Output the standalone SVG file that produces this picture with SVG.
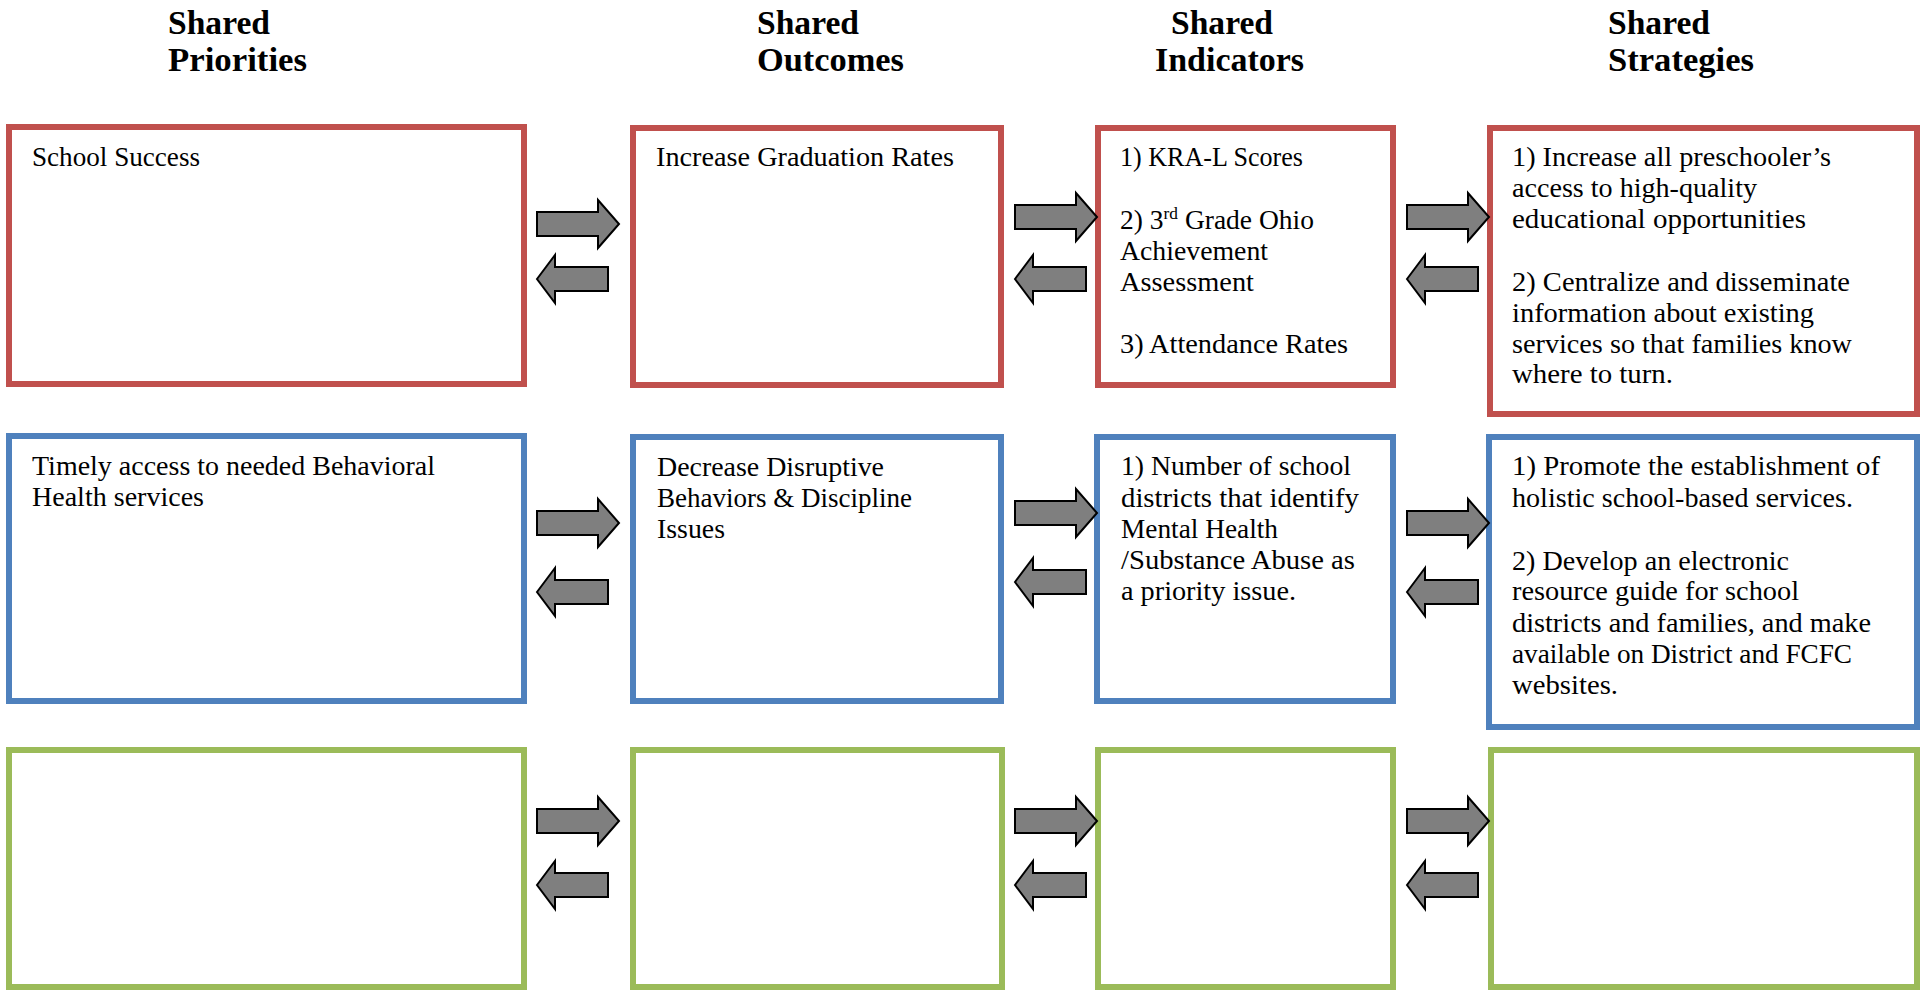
<svg xmlns="http://www.w3.org/2000/svg" xmlns:xlink="http://www.w3.org/1999/xlink" width="1923" height="990" viewBox="0 0 1923 990">
<style>
.hdr{font-family:"Liberation Serif","Times New Roman",serif;font-weight:bold;font-size:33px;fill:#000}
.t{font-family:"Liberation Serif","Times New Roman",serif;font-size:27px;fill:#000}
.sup{font-size:17px}
.red{fill:#fff;stroke:#C0504D;stroke-width:6}
.blue{fill:#fff;stroke:#4F81BD;stroke-width:6}
.green{fill:#fff;stroke:#9BBB59;stroke-width:6}
.arr{fill:#7F7F7F;stroke:#000;stroke-width:2;stroke-linejoin:miter}
</style>
<defs>
<path id="ra" class="arr" d="M0,-12 H61 V-24 L82,0 L61,24 V12 H0 Z"/>
<path id="la" class="arr" d="M0,0 L18,-24 V-12 H71 V12 H18 V24 Z"/>
</defs>
<rect width="1923" height="990" fill="#fff"/>
<g id="headers">
<text class="hdr" x="168" y="34" textLength="102" lengthAdjust="spacingAndGlyphs">Shared</text>
<text class="hdr" x="168" y="71" textLength="139" lengthAdjust="spacingAndGlyphs">Priorities</text>
<text class="hdr" x="757" y="34" textLength="102" lengthAdjust="spacingAndGlyphs">Shared</text>
<text class="hdr" x="757" y="71" textLength="147" lengthAdjust="spacingAndGlyphs">Outcomes</text>
<text class="hdr" x="1171" y="34" textLength="102" lengthAdjust="spacingAndGlyphs">Shared</text>
<text class="hdr" x="1155" y="71" textLength="149" lengthAdjust="spacingAndGlyphs">Indicators</text>
<text class="hdr" x="1608" y="34" textLength="102" lengthAdjust="spacingAndGlyphs">Shared</text>
<text class="hdr" x="1608" y="71" textLength="146" lengthAdjust="spacingAndGlyphs">Strategies</text>
</g>
<g id="r1c1"><rect class="red" x="9" y="127" width="515" height="257"/><text class="t" x="32" y="166" textLength="168" lengthAdjust="spacingAndGlyphs">School Success</text></g>
<g id="r1c2"><rect class="red" x="633" y="128" width="368" height="257"/><text class="t" x="656" y="166" textLength="298" lengthAdjust="spacingAndGlyphs">Increase Graduation Rates</text></g>
<g id="r1c3"><rect class="red" x="1098" y="128" width="295" height="257"/>
<text class="t" x="1120" y="166" textLength="183" lengthAdjust="spacingAndGlyphs">1) KRA-L Scores</text>
<text class="t" x="1120" y="229" textLength="194" lengthAdjust="spacingAndGlyphs">2) 3<tspan class="sup" dy="-10">rd</tspan><tspan dy="10"> Grade Ohio</tspan></text>
<text class="t" x="1120" y="260" textLength="148" lengthAdjust="spacingAndGlyphs">Achievement</text>
<text class="t" x="1120" y="291" textLength="134" lengthAdjust="spacingAndGlyphs">Assessment</text>
<text class="t" x="1120" y="353" textLength="228" lengthAdjust="spacingAndGlyphs">3) Attendance Rates</text>
</g>
<g id="r1c4"><rect class="red" x="1490" y="128" width="427" height="286"/>
<text class="t" x="1512" y="166" textLength="319" lengthAdjust="spacingAndGlyphs">1) Increase all preschooler’s</text>
<text class="t" x="1512" y="197" textLength="245" lengthAdjust="spacingAndGlyphs">access to high-quality</text>
<text class="t" x="1512" y="228" textLength="294" lengthAdjust="spacingAndGlyphs">educational opportunities</text>
<text class="t" x="1512" y="291" textLength="338" lengthAdjust="spacingAndGlyphs">2) Centralize and disseminate</text>
<text class="t" x="1512" y="322" textLength="302" lengthAdjust="spacingAndGlyphs">information about existing</text>
<text class="t" x="1512" y="353" textLength="340" lengthAdjust="spacingAndGlyphs">services so that families know</text>
<text class="t" x="1512" y="383" textLength="161" lengthAdjust="spacingAndGlyphs">where to turn.</text>
</g>
<g id="r2c1"><rect class="blue" x="9" y="436" width="515" height="265"/>
<text class="t" x="32" y="475" textLength="403" lengthAdjust="spacingAndGlyphs">Timely access to needed Behavioral</text>
<text class="t" x="32" y="506" textLength="172" lengthAdjust="spacingAndGlyphs">Health services</text>
</g>
<g id="r2c2"><rect class="blue" x="633" y="437" width="368" height="264"/>
<text class="t" x="657" y="476" textLength="227" lengthAdjust="spacingAndGlyphs">Decrease Disruptive</text>
<text class="t" x="657" y="507" textLength="255" lengthAdjust="spacingAndGlyphs">Behaviors &amp; Discipline</text>
<text class="t" x="657" y="538" textLength="68" lengthAdjust="spacingAndGlyphs">Issues</text>
</g>
<g id="r2c3"><rect class="blue" x="1097" y="437" width="296" height="264"/>
<text class="t" x="1121" y="475" textLength="230" lengthAdjust="spacingAndGlyphs">1) Number of school</text>
<text class="t" x="1121" y="507" textLength="238" lengthAdjust="spacingAndGlyphs">districts that identify</text>
<text class="t" x="1121" y="538" textLength="157" lengthAdjust="spacingAndGlyphs">Mental Health</text>
<text class="t" x="1121" y="569" textLength="234" lengthAdjust="spacingAndGlyphs">/Substance Abuse as</text>
<text class="t" x="1121" y="600" textLength="175" lengthAdjust="spacingAndGlyphs">a priority issue.</text>
</g>
<g id="r2c4"><rect class="blue" x="1489" y="437" width="428" height="290"/>
<text class="t" x="1512" y="475" textLength="368" lengthAdjust="spacingAndGlyphs">1) Promote the establishment of</text>
<text class="t" x="1512" y="507" textLength="341" lengthAdjust="spacingAndGlyphs">holistic school-based services.</text>
<text class="t" x="1512" y="570" textLength="277" lengthAdjust="spacingAndGlyphs">2) Develop an electronic</text>
<text class="t" x="1512" y="600" textLength="287" lengthAdjust="spacingAndGlyphs">resource guide for school</text>
<text class="t" x="1512" y="632" textLength="359" lengthAdjust="spacingAndGlyphs">districts and families, and make</text>
<text class="t" x="1512" y="663" textLength="340" lengthAdjust="spacingAndGlyphs">available on District and FCFC</text>
<text class="t" x="1512" y="694" textLength="106" lengthAdjust="spacingAndGlyphs">websites.</text>
</g>
<g id="r3c1"><rect class="green" x="9" y="750" width="515" height="237"/></g>
<g id="r3c2"><rect class="green" x="633" y="750" width="369" height="237"/></g>
<g id="r3c3"><rect class="green" x="1098" y="750" width="295" height="237"/></g>
<g id="r3c4"><rect class="green" x="1491" y="750" width="426" height="237"/></g>
<g id="connectors">
<use xlink:href="#ra" x="537" y="224"/>
<use xlink:href="#la" x="537" y="279"/>
<use xlink:href="#ra" x="1015" y="217"/>
<use xlink:href="#la" x="1015" y="279"/>
<use xlink:href="#ra" x="1407" y="217"/>
<use xlink:href="#la" x="1407" y="279"/>
<use xlink:href="#ra" x="537" y="523"/>
<use xlink:href="#la" x="537" y="592"/>
<use xlink:href="#ra" x="1015" y="513"/>
<use xlink:href="#la" x="1015" y="582"/>
<use xlink:href="#ra" x="1407" y="523"/>
<use xlink:href="#la" x="1407" y="592"/>
<use xlink:href="#ra" x="537" y="821"/>
<use xlink:href="#la" x="537" y="885"/>
<use xlink:href="#ra" x="1015" y="821"/>
<use xlink:href="#la" x="1015" y="885"/>
<use xlink:href="#ra" x="1407" y="821"/>
<use xlink:href="#la" x="1407" y="885"/>
</g>
</svg>
